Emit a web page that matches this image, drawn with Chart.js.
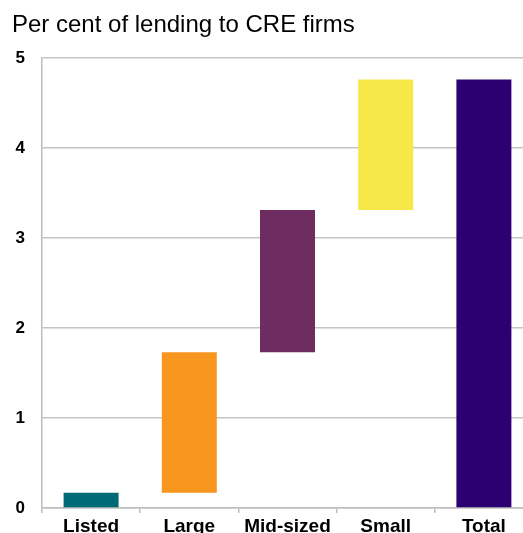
<!DOCTYPE html>
<html>
<head>
<meta charset="utf-8">
<script src="https://cdn.jsdelivr.net/npm/chart.js@4"></script>
<style>
html, body { margin: 0; padding: 0; overflow: hidden; background: #fff; width: 523px; height: 533px; }
#wrap { position: relative; width: 540px; height: 560px; }
#title { position: absolute; left: 12px; top: 10px; font: 24px "Liberation Sans", Arial, sans-serif; color: #000; white-space: nowrap; }
</style>
</head>
<body>
<div id="wrap">
<canvas id="cre" width="540" height="560"></canvas>
<div id="title">Per cent of lending to CRE firms</div>
</div>
<script>
// contributions by borrower size, stacked as a waterfall
const categories = ["Listed", "Large", "Mid-sized", "Small", "Total"];
const barStart = [0, 0.17, 1.73, 3.31, 0];
const barEnd = [0.17, 1.73, 3.31, 4.76, 4.76];
const barColours = ["#006b77", "#f7971f", "#6e2c61", "#f6e848", "#2c0070"];
const yTicks = [0, 1, 2, 3, 4, 5];

const ranges = categories.map((c, i) => [barStart[i], barEnd[i]]);

const ctx = document.getElementById('cre');

new Chart(ctx, {
  type: 'bar',
  data: {
    labels: categories,
    datasets: [{
      data: ranges,
      backgroundColor: barColours,
      borderWidth: 0,
      barPercentage: 0.56,
      categoryPercentage: 1
    }]
  },
  options: {
    responsive: false,
    animation: false,
    layout: { padding: { top: 58, left: 0, right: 7, bottom: 0 } },
    plugins: { legend: { display: false }, tooltip: { enabled: false } },
    scales: {
      x: {
        afterFit: s => { s.height = 52; },
        grid: { drawOnChartArea: false, drawTicks: true, tickLength: 5, color: '#bdbdbd', lineWidth: 1.5 },
        border: { color: '#bdbdbd', width: 1.5 },
        ticks: { color: '#000', padding: 2, font: { family: 'Liberation Sans', size: 19, weight: 'bold' }, maxRotation: 0, autoSkip: false }
      },
      y: {
        min: 0,
        max: 5,
        afterFit: s => { s.width = 42; },
        afterBuildTicks: s => { s.ticks = yTicks.map(v => ({ value: v })); },
        grid: { drawTicks: false, color: '#c4c4c4', lineWidth: 1.5 },
        border: { color: '#bdbdbd', width: 1.5 },
        ticks: { color: '#000', padding: 17, font: { family: 'Liberation Sans', size: 17, weight: 'bold' } }
      }
    }
  }
});
</script>
</body>
</html>
